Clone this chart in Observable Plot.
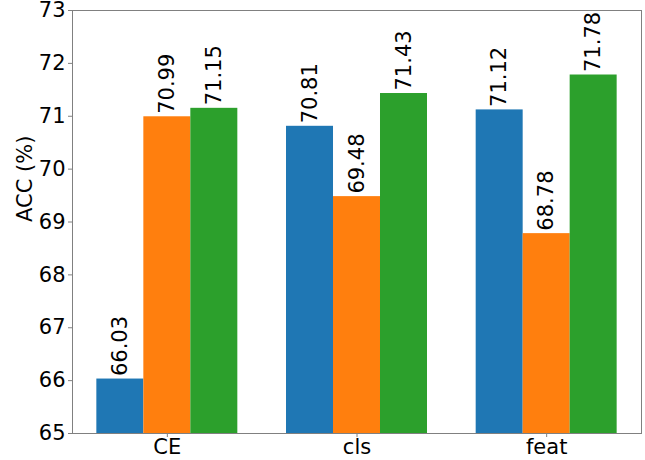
<!DOCTYPE html>
<html>
<head>
<meta charset="utf-8">
<script src="https://cdn.jsdelivr.net/npm/d3@7"></script>
<script src="https://cdn.jsdelivr.net/npm/@observablehq/plot@0.6"></script>
<style>
  html, body { margin: 0; padding: 0; background: #fff; }
  #chart svg { font-family: "DejaVu Sans", sans-serif; }
</style>
</head>
<body>
<div id="chart"></div>
<script>
const groups = ["CE", "cls", "feat"];
const seriesNames = ["s1", "s2", "s3"];
const s1Values = [66.03, 70.81, 71.12];
const s2Values = [70.99, 69.48, 68.78];
const s3Values = [71.15, 71.43, 71.78];
const seriesColors = ["#1f77b4", "#ff7f0e", "#2ca02c"];
const yTicks = [65, 66, 67, 68, 69, 70, 71, 72, 73];
const yLabel = "ACC (%)";

const allValues = [s1Values, s2Values, s3Values];
const data = [];
groups.forEach((g, gi) => {
  seriesNames.forEach((s, si) => {
    data.push({group: g, series: s, value: allValues[si][gi]});
  });
});
const yMin = yTicks[0];
const yMax = yTicks[yTicks.length - 1];

const chart = Plot.plot({
  width: 645,
  height: 460,
  marginLeft: 72,
  marginRight: 4,
  marginTop: 10,
  marginBottom: 27,
  style: {fontFamily: "DejaVu Sans, sans-serif", background: "#fff"},
  fx: {domain: groups, padding: 0, round: false},
  x: {domain: seriesNames, paddingInner: 0, paddingOuter: 0.518, round: false, axis: null},
  y: {domain: [yMin, yMax]},
  color: {domain: seriesNames, range: seriesColors},
  marks: [
    Plot.barY(data, {fx: "group", x: "series", y1: yMin, y2: "value", fill: "series", inset: 0}),
    Plot.text(data, {
      fx: "group", x: "series", y: "value",
      text: d => d.value.toFixed(2),
      rotate: -90, textAnchor: "start", dy: -3,
      fontSize: 21, fill: "#000"
    }),
    Plot.frame({facet: "super", stroke: "#808080", strokeWidth: 1}),
    Plot.axisY({
      ticks: yTicks, tickSize: 4, tickPadding: 3, fontSize: 21,
      stroke: "#808080", color: "#000", label: null
    }),
    Plot.text([yLabel], {
      facet: "super", frameAnchor: "left", dx: -47, rotate: -90,
      text: d => d, fontSize: 21, fill: "#000"
    }),
    Plot.axisFx({anchor: "bottom", tickSize: 4, tickPadding: 2, fontSize: 21, label: null, stroke: "#808080", color: "#000"})
  ]
});
document.getElementById("chart").appendChild(chart);
</script>
</body>
</html>
